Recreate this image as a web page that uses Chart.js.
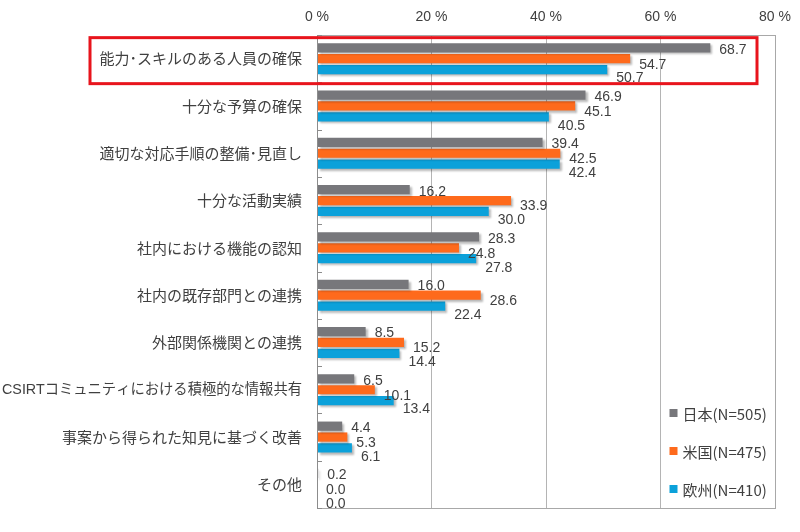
<!DOCTYPE html>
<html>
<head>
<meta charset="utf-8">
<script src="https://cdn.jsdelivr.net/npm/chart.js@4.4.0/dist/chart.umd.min.js"></script>
<style>
  html, body { margin: 0; padding: 0; background: #fff; }
  #wrap { width: 800px; height: 532px; }
</style>
</head>
<body>
<div id="wrap"><canvas id="myChart" width="800" height="532"></canvas></div>
<script>
const categories = [
    '能力･スキルのある人員の確保',
    '十分な予算の確保',
    '適切な対応手順の整備･見直し',
    '十分な活動実績',
    '社内における機能の認知',
    '社内の既存部門との連携',
    '外部関係機関との連携',
    'CSIRTコミュニティにおける積極的な情報共有',
    '事案から得られた知見に基づく改善',
    'その他'
];
const seriesNames = ['日本(N=505)', '米国(N=475)', '欧州(N=410)'];
const japan = [68.7, 46.9, 39.4, 16.2, 28.3, 16.0, 8.5, 6.5, 4.4, 0.2];
const usa = [54.7, 45.1, 42.5, 33.9, 24.8, 28.6, 15.2, 10.1, 5.3, 0.0];
const europe = [50.7, 40.5, 42.4, 30.0, 27.8, 22.4, 14.4, 13.4, 6.1, 0.0];
const xTicks = [0, 20, 40, 60, 80];

const colors = ['#77777b', '#fe6a1c', '#0ba1da'];
const labelDy = [2, 6, 9];   // Excel staggers the value labels downward
const textColor = '#404040';
const numFont = '"Liberation Sans", Arial, sans-serif';
const jpFont = '"Noto Sans CJK JP", sans-serif';

// shadows on the bars, value labels, plot frame, left tick marks, legend, red highlight
const decorations = {
    id: 'decorations',
    beforeDatasetsDraw(chart) {
        const ctx = chart.ctx;
        ctx.save();
        ctx.shadowColor = 'rgba(0,0,0,0.28)';
        ctx.shadowOffsetX = 2;
        ctx.shadowOffsetY = 2;
        ctx.shadowBlur = 2;
    },
    afterDatasetsDraw(chart) {
        const ctx = chart.ctx;
        ctx.restore();
        const area = chart.chartArea;
        const yScale = chart.scales.y;

        // frame
        ctx.save();
        ctx.strokeStyle = '#a8a8a8';
        ctx.lineWidth = 1;
        ctx.strokeRect(area.left + 0.5, area.top + 0.5, area.right - area.left, area.bottom - area.top);
        ctx.strokeStyle = '#8c8c8c';
        ctx.beginPath();
        ctx.moveTo(area.left + 0.5, area.top);
        ctx.lineTo(area.left + 0.5, area.bottom);
        // small ticks between categories
        const band = (area.bottom - area.top) / categories.length;
        for (let i = 0; i <= categories.length; i++) {
            const y = Math.round(area.top + i * band) + 0.5;
            ctx.moveTo(area.left, y);
            ctx.lineTo(area.left + 5, y);
        }
        ctx.stroke();

        // value labels
        ctx.fillStyle = textColor;
        ctx.font = '14px ' + numFont;
        ctx.textAlign = 'left';
        ctx.textBaseline = 'middle';
        chart.data.datasets.forEach((ds, di) => {
            const meta = chart.getDatasetMeta(di);
            meta.data.forEach((bar, i) => {
                ctx.fillText(ds.data[i].toFixed(1), bar.x + 9, bar.y + labelDy[di]);
            });
        });

        // legend inside the plot, lower right
        ctx.font = '15px ' + jpFont;
        const lx = chart.scales.x.getPixelForValue(60) + 9;
        const ly = [413, 451, 489];
        seriesNames.forEach((name, i) => {
            ctx.fillStyle = colors[i];
            ctx.fillRect(lx, ly[i] - 4, 8, 8);
            ctx.fillStyle = textColor;
            ctx.fillText(name, lx + 13, ly[i] + 1);
        });

        // red highlight round the first category
        const cy = yScale.getPixelForValue(0);
        ctx.strokeStyle = '#e8141c';
        ctx.lineWidth = 3;
        ctx.strokeRect(90, cy - 21, area.right - 18 - 90, 46);
        ctx.restore();
    }
};

document.addEventListener('DOMContentLoaded', () => {
    const ctx = document.getElementById('myChart').getContext('2d');
    const myChart = new Chart(ctx, {
        type: 'bar',
        data: {
            labels: categories,
            datasets: [
                { label: seriesNames[0], data: japan, backgroundColor: colors[0] },
                { label: seriesNames[1], data: usa, backgroundColor: colors[1] },
                { label: seriesNames[2], data: europe, backgroundColor: colors[2] }
            ]
        },
        options: {
            indexAxis: 'y',
            responsive: false,
            animation: false,
            categoryPercentage: 0.69,
            barPercentage: 0.85,
            layout: { padding: { left: 0, right: 25, top: 0, bottom: 16 } },
            plugins: {
                legend: { display: false },
                tooltip: { enabled: false }
            },
            scales: {
                x: {
                    position: 'top',
                    min: 0,
                    max: 80,
                    afterBuildTicks: (scale) => { scale.ticks = xTicks.map(v => ({ value: v })); },
                    afterFit: (scale) => { scale.height = 35; },
                    ticks: {
                        padding: 9,
                        color: textColor,
                        font: { family: numFont, size: 14 },
                        callback: (v) => v + ' %'
                    },
                    grid: { color: '#b4b4b4', drawTicks: false },
                    border: { display: false }
                },
                y: {
                    afterFit: (scale) => { scale.width = 317; },
                    ticks: {
                        padding: 15,
                        color: textColor,
                        // the long CSIRT label is set a little tighter so it fits
                        font: (c) => (c.index === 7
                            ? { family: '"Liberation Sans", ' + jpFont, size: 14.3 }
                            : { family: jpFont, size: 15 })
                    },
                    grid: { display: false, drawTicks: false },
                    border: { display: false }
                }
            }
        },
        plugins: [decorations]
    });
});
</script>
</body>
</html>
